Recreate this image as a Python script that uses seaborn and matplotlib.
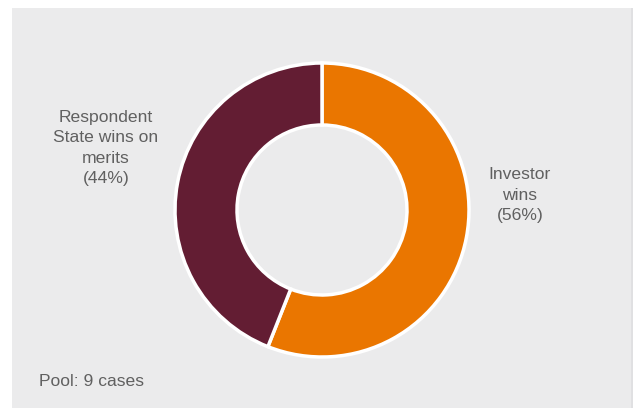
import matplotlib
matplotlib.use("Agg")
import matplotlib.pyplot as plt
from matplotlib.patches import Rectangle
import seaborn as sns

# Outcome shares of the case pool
outcomes = ["Investor wins", "Respondent State wins on merits"]
shares = [56, 44]
colors = ["#EA7600", "#631D33"]
label_lines = ["Investor\nwins\n(56%)", "Respondent\nState wins on\nmerits\n(44%)"]
pool_note = "Pool: 9 cases"

sns.set_theme(style="white")
plt.rcParams["font.family"] = ["Liberation Sans", "DejaVu Sans"]

W, H = 636, 408
fig = plt.figure(figsize=(W / 100, H / 100), dpi=100, facecolor="white")
ax = fig.add_axes([0, 0, 1, 1])

# grey panel behind the chart
ax.add_patch(Rectangle((12, 0), 620, 400, facecolor="#EBEBEC",
                       edgecolor="none", zorder=0))
ax.add_patch(Rectangle((631, 0), 2, 400, facecolor="#E0E0E2",
                       edgecolor="none", zorder=0))

cx, cy, r = 322, 198, 147
ax.pie(shares, colors=colors, startangle=90, counterclock=False,
       center=(cx, cy), radius=r, frame=True,
       wedgeprops=dict(width=62, edgecolor="white", linewidth=2.5))
ax.set_xlim(0, W)
ax.set_ylim(0, H)
ax.set_aspect("equal")
ax.axis("off")

txt = dict(color="#606060", fontsize=12.6, ha="center", va="center",
           linespacing=1.45)
ax.text(520, H - 195, label_lines[0], **txt)
ax.text(106, H - 148, label_lines[1], **txt)
ax.text(39, H - 382, pool_note, color="#606060", fontsize=12.6,
        ha="left", va="center")

fig.savefig("out.png", dpi=100, facecolor="white")
